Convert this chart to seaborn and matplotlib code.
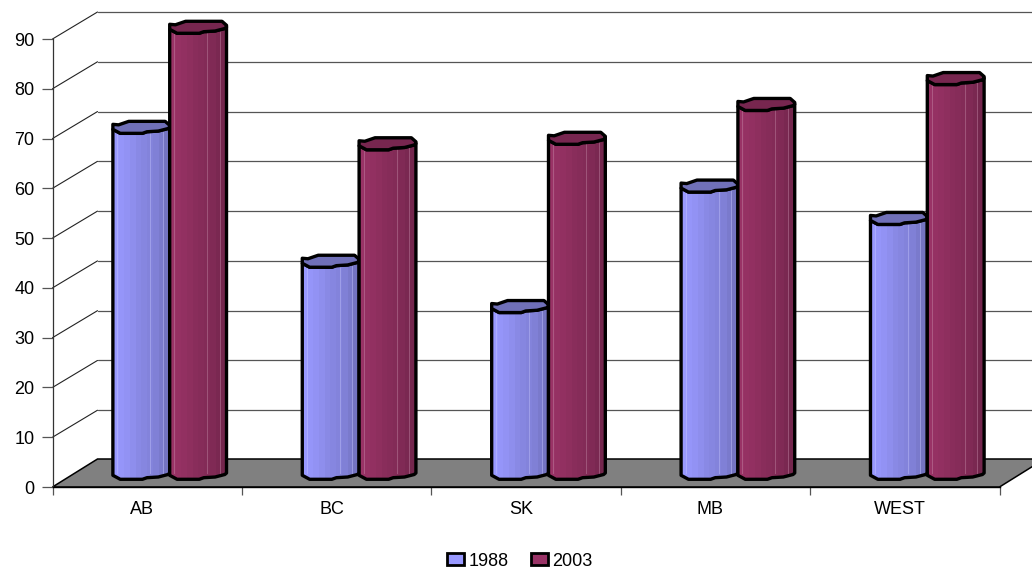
import numpy as np
import pandas as pd
import matplotlib.pyplot as plt
import matplotlib.transforms as mtrans
import seaborn as sb
from matplotlib.patches import Patch, Polygon

# values
regions = ['AB', 'BC', 'SK', 'MB', 'WEST']
values_1988 = [69.5, 42.6, 33.5, 57.7, 51.2]
values_2003 = [89.6, 66.2, 67.3, 74.1, 79.3]
y_ticks = [0, 10, 20, 30, 40, 50, 60, 70, 80, 90]

df = pd.DataFrame({
    'region': regions * 2,
    'year': ['1988'] * 5 + ['2003'] * 5,
    'value': values_1988 + values_2003,
})

sb.set_theme(style='white')
plt.rcParams['font.family'] = ['Liberation Sans', 'DejaVu Sans']
plt.rcParams['font.size'] = 13
plt.rcParams['text.color'] = 'black'

W, H = 1032, 569
fig = plt.figure(figsize=(W / 100, H / 100), dpi=100)


def px_axes(x0, y_top, x1, y_bottom):
    # axes from pixel box, y measured from the top of the image
    return fig.add_axes([x0 / W, 1 - y_bottom / H, (x1 - x0) / W, (y_bottom - y_top) / H])


FX0, FX1, FY0, FY90 = 52.5, 999.5, 487, 39
PX_PER_UNIT = (FY0 - FY90) / 90
DEPTH_X, DEPTH_Y = 45, 28

# back wall and floor, pixel coordinates
bg = px_axes(0, 0, W, H)
bg.set_xlim(0, W)
bg.set_ylim(H, 0)
bg.axis('off')
bg.add_patch(Polygon([(FX0, FY0), (FX0 + DEPTH_X, FY0 - DEPTH_Y), (FX1 + DEPTH_X, FY0 - DEPTH_Y), (FX1, FY0)],
                     facecolor='#808080', edgecolor='black', lw=1.1))
for t in y_ticks:
    yf = FY0 - t * PX_PER_UNIT
    if t > 0:
        bg.plot([FX0 + DEPTH_X, W], [yf - DEPTH_Y + 1] * 2, color='#555555', lw=0.9)
        bg.plot([FX0, FX0 + DEPTH_X], [yf, yf - DEPTH_Y + 1], color='#222222', lw=0.8)

# front axis with ticks and labels
ax = px_axes(FX0, FY90, FX1, FY0)
ax.patch.set_alpha(0)
ax.set_xlim(-0.5, 4.5)
ax.set_ylim(0, 90)
ax.set_yticks(y_ticks)
ax.set_xticks(np.arange(-0.5, 5))
ax.set_xticklabels([])
ax.set_xticks(range(5), labels=regions, minor=True)
ax.tick_params(axis='y', length=8, width=0.9, color='#555555', pad=5, labelsize=13, left=True, labelcolor='black')
ax.tick_params(axis='x', which='major', length=6, width=0.9, color='#555555', bottom=True)
ax.tick_params(axis='x', which='minor', length=0, pad=10, labelsize=13, labelcolor='black')
shift = mtrans.ScaledTranslation(-5 / 100, 0, fig.dpi_scale_trans)
for label in ax.get_xticklabels(minor=True):
    label.set_transform(label.get_transform() + shift)
for s in ['top', 'right']:
    ax.spines[s].set_visible(False)
ax.spines['left'].set_color('#333333')
ax.spines['left'].set_linewidth(0.9)
ax.spines['bottom'].set_color('black')
ax.spines['bottom'].set_linewidth(1.0)

# bars stand half way back on the floor
bar_ax = px_axes(FX0 + DEPTH_X / 2, FY90 - 13, FX1 + DEPTH_X / 2, FY0 - 13)
sb.barplot(data=df, x='region', y='value', hue='year', order=regions, width=0.6, gap=0,
           palette=['#9999FF', '#993366'], legend=False, ax=bar_ax)
bar_ax.set_xlim(-0.5, 4.5)
bar_ax.set_ylim(0, 90)
bar_ax.axis('off')

# wobbly faceted cylinder outline: x as fraction of bar width, y as px from the centre (down = +)
front_edge = [(0, 1.3), (.13, 5.3), (.52, 5.3), (.6, 3.7), (.8, 3), (.97, 0.5), (1, -1)]
back_edge = [(1, -2.7), (.92, -6.7), (.28, -6.7), (.1, -3.2), (0, -3.7)]
body_shades = [1.0, .98, .96, .93, .90, .88, .86, .84, .80, .76]
light_lines = [.08, .66, .88]

base_cols = {0: np.array([0x99, 0x99, 0xFF]) / 255, 1: np.array([0x99, 0x33, 0x66]) / 255}
top_cols = {0: '#7070B8', 1: '#77264F'}
OUTLINE = 2.4

n = len(regions)
for i, bar in enumerate(bar_ax.patches[:2 * n]):
    series = i // n
    x0, w, h = bar.get_x(), bar.get_width(), bar.get_height()
    bar.set_visible(False)

    def pt(fx, dy, level):
        return (x0 + fx * w, level - dy / PX_PER_UNIT)

    outline = [pt(fx, dy, 0) for fx, dy in front_edge] + \
              [pt(fx, dy, h) for fx, dy in front_edge[::-1]]
    z = 3 + series * 3
    body = Polygon(outline, closed=True, facecolor='none', edgecolor='black', lw=OUTLINE, zorder=z + 1,
                   clip_on=False, joinstyle='round')
    bar_ax.add_patch(body)
    rgb = np.array([[base_cols[series] * s for s in body_shades]])
    im = bar_ax.imshow(rgb, extent=(x0, x0 + w, -3, h + 3), aspect='auto', interpolation='nearest', zorder=z)
    im.set_clip_box(fig.bbox)
    im.set_clip_path(body)
    for fx in light_lines:
        line, = bar_ax.plot([x0 + fx * w] * 2, [0, h], color=base_cols[series] * 0.5 + 0.5, lw=0.6,
                            alpha=0.45, zorder=z)
        line.set_clip_path(body)
    top = [pt(fx, dy, h) for fx, dy in front_edge + back_edge]
    bar_ax.add_patch(Polygon(top, closed=True, facecolor=top_cols[series], edgecolor='black', lw=OUTLINE,
                             zorder=z + 2, clip_on=False, joinstyle='round'))

bar_ax.set_xlim(-0.5, 4.5)
bar_ax.set_ylim(0, 90)

handles = [Patch(facecolor='#9999FF', edgecolor='black', lw=2.0, label='1988'),
           Patch(facecolor='#993366', edgecolor='black', lw=2.0, label='2003')]
fig.legend(handles=handles, loc='center', bbox_to_anchor=(520 / W, 1 - 561 / H), ncol=2, frameon=False,
           fontsize=13, handlelength=0.95, handleheight=0.6, handletextpad=0.25, columnspacing=1.2,
           borderpad=0)

fig.savefig('out.png', dpi=100)
